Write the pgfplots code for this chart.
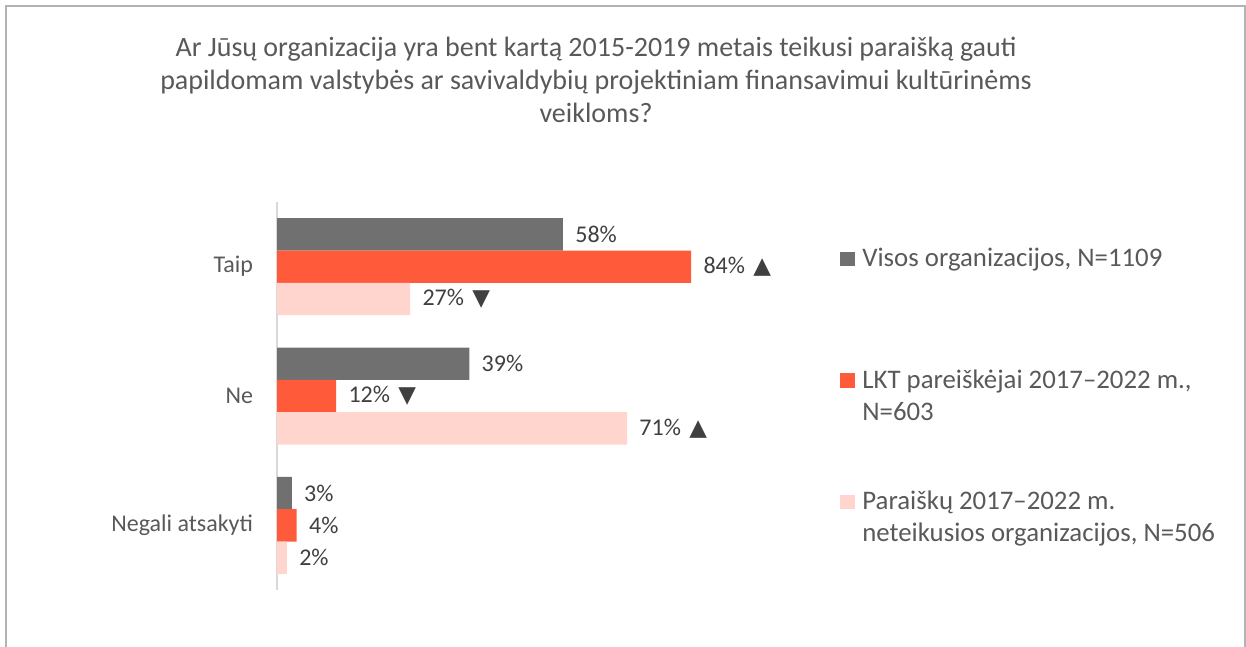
\documentclass[border=0pt]{standalone}
\usepackage{fontspec}
\setmainfont{Carlito}
\newfontfamily\symfont{DejaVu Sans}
\usepackage{pgfplots}
\pgfplotsset{compat=1.18}
\definecolor{cgray}{HTML}{707070}
\definecolor{corange}{HTML}{FF5B3B}
\definecolor{cpink}{HTML}{FFD5CE}
\definecolor{border}{HTML}{B3B3B3}
\definecolor{axisgray}{HTML}{D9D9D9}
\definecolor{lbl}{HTML}{404040}
\definecolor{txt}{HTML}{595959}
\DeclareRobustCommand{\up}{\hspace{1.5pt}{\symfont\fontsize{11.5}{11.5}\selectfont\char"25B2}}
\DeclareRobustCommand{\down}{\hspace{1.5pt}{\symfont\fontsize{11.5}{11.5}\selectfont\char"25BC}}
\begin{document}
\begin{tikzpicture}
\path[use as bounding box] (0,0) rectangle (623pt,-323.5pt);
\draw[border, line width=1pt] (3.2pt,-323.5pt) -- (3.2pt,-2.9pt) -- (622.3pt,-2.9pt) -- (622.3pt,-323.5pt);
\node[align=center, text=txt, font=\fontsize{14}{16.5}\selectfont] at (298pt,-40pt)
 {Ar Jūsų organizacija yra bent kartą 2015-2019 metais teikusi paraišką gauti\\
  papildomam valstybės ar savivaldybių projektiniam finansavimui kultūrinėms\\
  veikloms?};
\begin{axis}[
  at={(138.5pt,-101pt)}, anchor=north west,
  scale only axis, width=246.5pt, height=194pt,
  xmin=0, xmax=100, ymin=-0.5, ymax=2.5, y dir=reverse,
  hide x axis,
  axis y line*=left,
  axis line style={draw=axisgray, line width=1pt},
  ytick={0,1,2}, yticklabels={Taip,Ne,Negali atsakyti},
  ytick style={draw=none},
  yticklabel style={font=\fontsize{12}{14}\selectfont, text=txt, inner sep=0pt, xshift=-7.5pt},
  xbar, bar width=0.25,
  point meta=explicit symbolic,
  nodes near coords,
  nodes near coords style={font=\fontsize{12}{14}\selectfont, text=lbl, anchor=west, inner sep=0pt, xshift=6pt},
  clip=false,
]
\addplot[fill=cgray, draw=none, bar shift=-0.25] coordinates {(58,0) [58\%] (39,1) [39\%] (3,2) [3\%]};
\addplot[fill=corange, draw=none, bar shift=0] coordinates {(84,0) [84\%~\up] (12,1) [12\%~\down] (4,2) [4\%]};
\addplot[fill=cpink, draw=none, bar shift=0.25] coordinates {(27,0) [27\%~\down] (71,1) [71\%~\up] (2,2) [2\%]};
\end{axis}
\begin{scope}[every node/.style={anchor=base west, inner sep=0pt, text=txt, font=\fontsize{13.4}{16}\selectfont}]
\fill[cgray] (420pt,-125.9pt) rectangle (427.3pt,-133.2pt);
\node at (431pt,-133.3pt) {Visos organizacijos, N=1109};
\fill[corange] (420pt,-186.6pt) rectangle (427.3pt,-193.9pt);
\node at (431pt,-194.2pt) {LKT pareiškėjai 2017–2022 m.,};
\node at (431pt,-210.4pt) {N=603};
\fill[cpink] (420pt,-247.4pt) rectangle (427.3pt,-254.7pt);
\node at (431pt,-254.7pt) {Paraiškų 2017–2022 m.};
\node at (431pt,-270.9pt) {neteikusios organizacijos, N=506};
\end{scope}
\end{tikzpicture}
\end{document}
